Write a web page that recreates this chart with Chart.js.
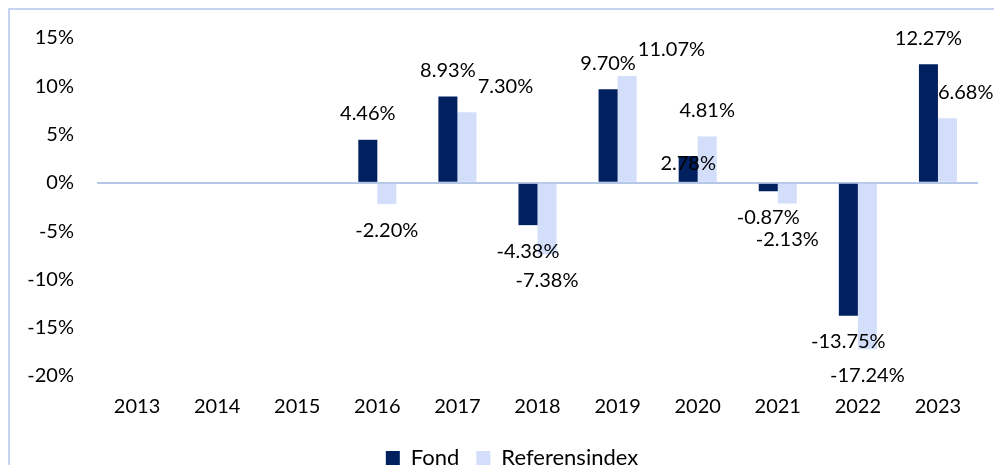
<!DOCTYPE html>
<html>
<head>
<meta charset="utf-8">
<script src="https://cdn.jsdelivr.net/npm/chart.js@4.4.1/dist/chart.umd.min.js"></script>
<style>
  html, body { margin: 0; padding: 0; overflow: hidden; background: #fff; }
  #wrap { position: relative; width: 994px; height: 483px; }
  #frame { position: absolute; left: 8px; top: 8px; width: 1100px; height: 600px;
           border-left: 2px solid #c6d4f2; border-top: 2px solid #c6d4f2; }
</style>
</head>
<body>
<div id="wrap">
  <div id="frame"></div>
  <canvas id="myChart" width="994" height="483"></canvas>
</div>
<script>
// data
const years = ['2013', '2014', '2015', '2016', '2017', '2018', '2019', '2020', '2021', '2022', '2023'];
const fond = [null, null, null, 4.46, 8.93, -4.38, 9.70, 2.78, -0.87, -13.75, 12.27];
const referensindex = [null, null, null, -2.20, 7.30, -7.38, 11.07, 4.81, -2.13, -17.24, 6.68];
const yTicks = [15, 10, 5, 0, -5, -10, -15, -20];

const FONT = 'Lato, "Liberation Sans", sans-serif';

// värdeetiketter ovanför/under staplarna, flyttas lite om de krockar
const barLabels = {
    id: 'barLabels',
    afterDatasetsDraw(chart) {
        const ctx = chart.ctx;
        ctx.save();
        ctx.font = '20px ' + FONT;
        ctx.fillStyle = '#000';
        ctx.textAlign = 'center';
        ctx.textBaseline = 'middle';
        const m0 = chart.getDatasetMeta(0).data;
        const m1 = chart.getDatasetMeta(1).data;
        const boxes = [];
        chart.data.datasets.forEach((ds, di) => {
            const other = di === 0 ? referensindex : fond;
            const meta = di === 0 ? m0 : m1;
            meta.forEach((el, i) => {
                const v = ds.data[i];
                if (v === null) return;
                const txt = v.toFixed(2) + '%';
                const w = ctx.measureText(txt).width;
                let x = el.x;
                let y = v >= 0 ? el.y - 26 : el.y + 26;
                if (di === 0 && v >= 0 && other[i] > v && y + 10 > m1[i].y) {
                    y = el.y + 8;
                }
                if (di === 1) {
                    if (v >= 0 && other[i] > v && y + 10 > m0[i].y) {
                        x = el.x - el.width / 2 + w / 2;
                    }
                    const b = boxes[i];
                    if (b && Math.abs(b.y - y) < 20 && Math.abs(b.x - x) < (b.w + w) / 2) {
                        if (v >= 0) x = b.x + (b.w + w) / 2 + 2;
                        else y = b.y + 22;
                    }
                }
                if (di === 0) boxes[i] = { x, y, w };
                ctx.fillText(txt, x, y);
            });
        });
        ctx.restore();
    }
};

// förklaringen sitter lite till höger om mitten i originalet
const legendShift = {
    id: 'legendShift',
    afterLayout(chart) {
        chart.legend.left += 23;
        chart.legend.right += 23;
    }
};

const data = {
    labels: years,
    datasets: [{
        label: 'Fond',
        data: fond,
        backgroundColor: '#002060',
        categoryPercentage: 0.475,
        barPercentage: 1
    }, {
        label: 'Referensindex',
        data: referensindex,
        backgroundColor: '#d3defa',
        categoryPercentage: 0.475,
        barPercentage: 1
    }]
};

const options = {
    responsive: false,
    animation: false,
    layout: { padding: { top: 38, right: 16, left: 0, bottom: 4 } },
    plugins: {
        legend: {
            position: 'bottom',
            labels: {
                font: { family: FONT, size: 22 },
                color: '#000',
                boxWidth: 14,
                boxHeight: 14,
                padding: 17
            }
        },
        tooltip: { enabled: false }
    },
    scales: {
        x: {
            grid: { display: false },
            border: { display: false },
            ticks: { font: { family: FONT, size: 20 }, color: '#000', padding: 11 }
        },
        y: {
            min: -20,
            max: 15,
            afterFit(scale) { scale.width = 97; },
            afterBuildTicks(scale) { scale.ticks = yTicks.map(v => ({ value: v })); },
            grid: {
                drawTicks: false,
                color: c => c.tick && c.tick.value === 0 ? '#b4c7e7' : 'transparent',
                lineWidth: 2
            },
            border: { display: false },
            ticks: {
                font: { family: FONT, size: 20 },
                color: '#000',
                padding: 23,
                callback: v => v + '%'
            }
        }
    }
};

const config = {
    type: 'bar',
    data,
    options,
    plugins: [barLabels, legendShift]
};

const myChart = new Chart(document.getElementById('myChart').getContext('2d'), config);
</script>
</body>
</html>
